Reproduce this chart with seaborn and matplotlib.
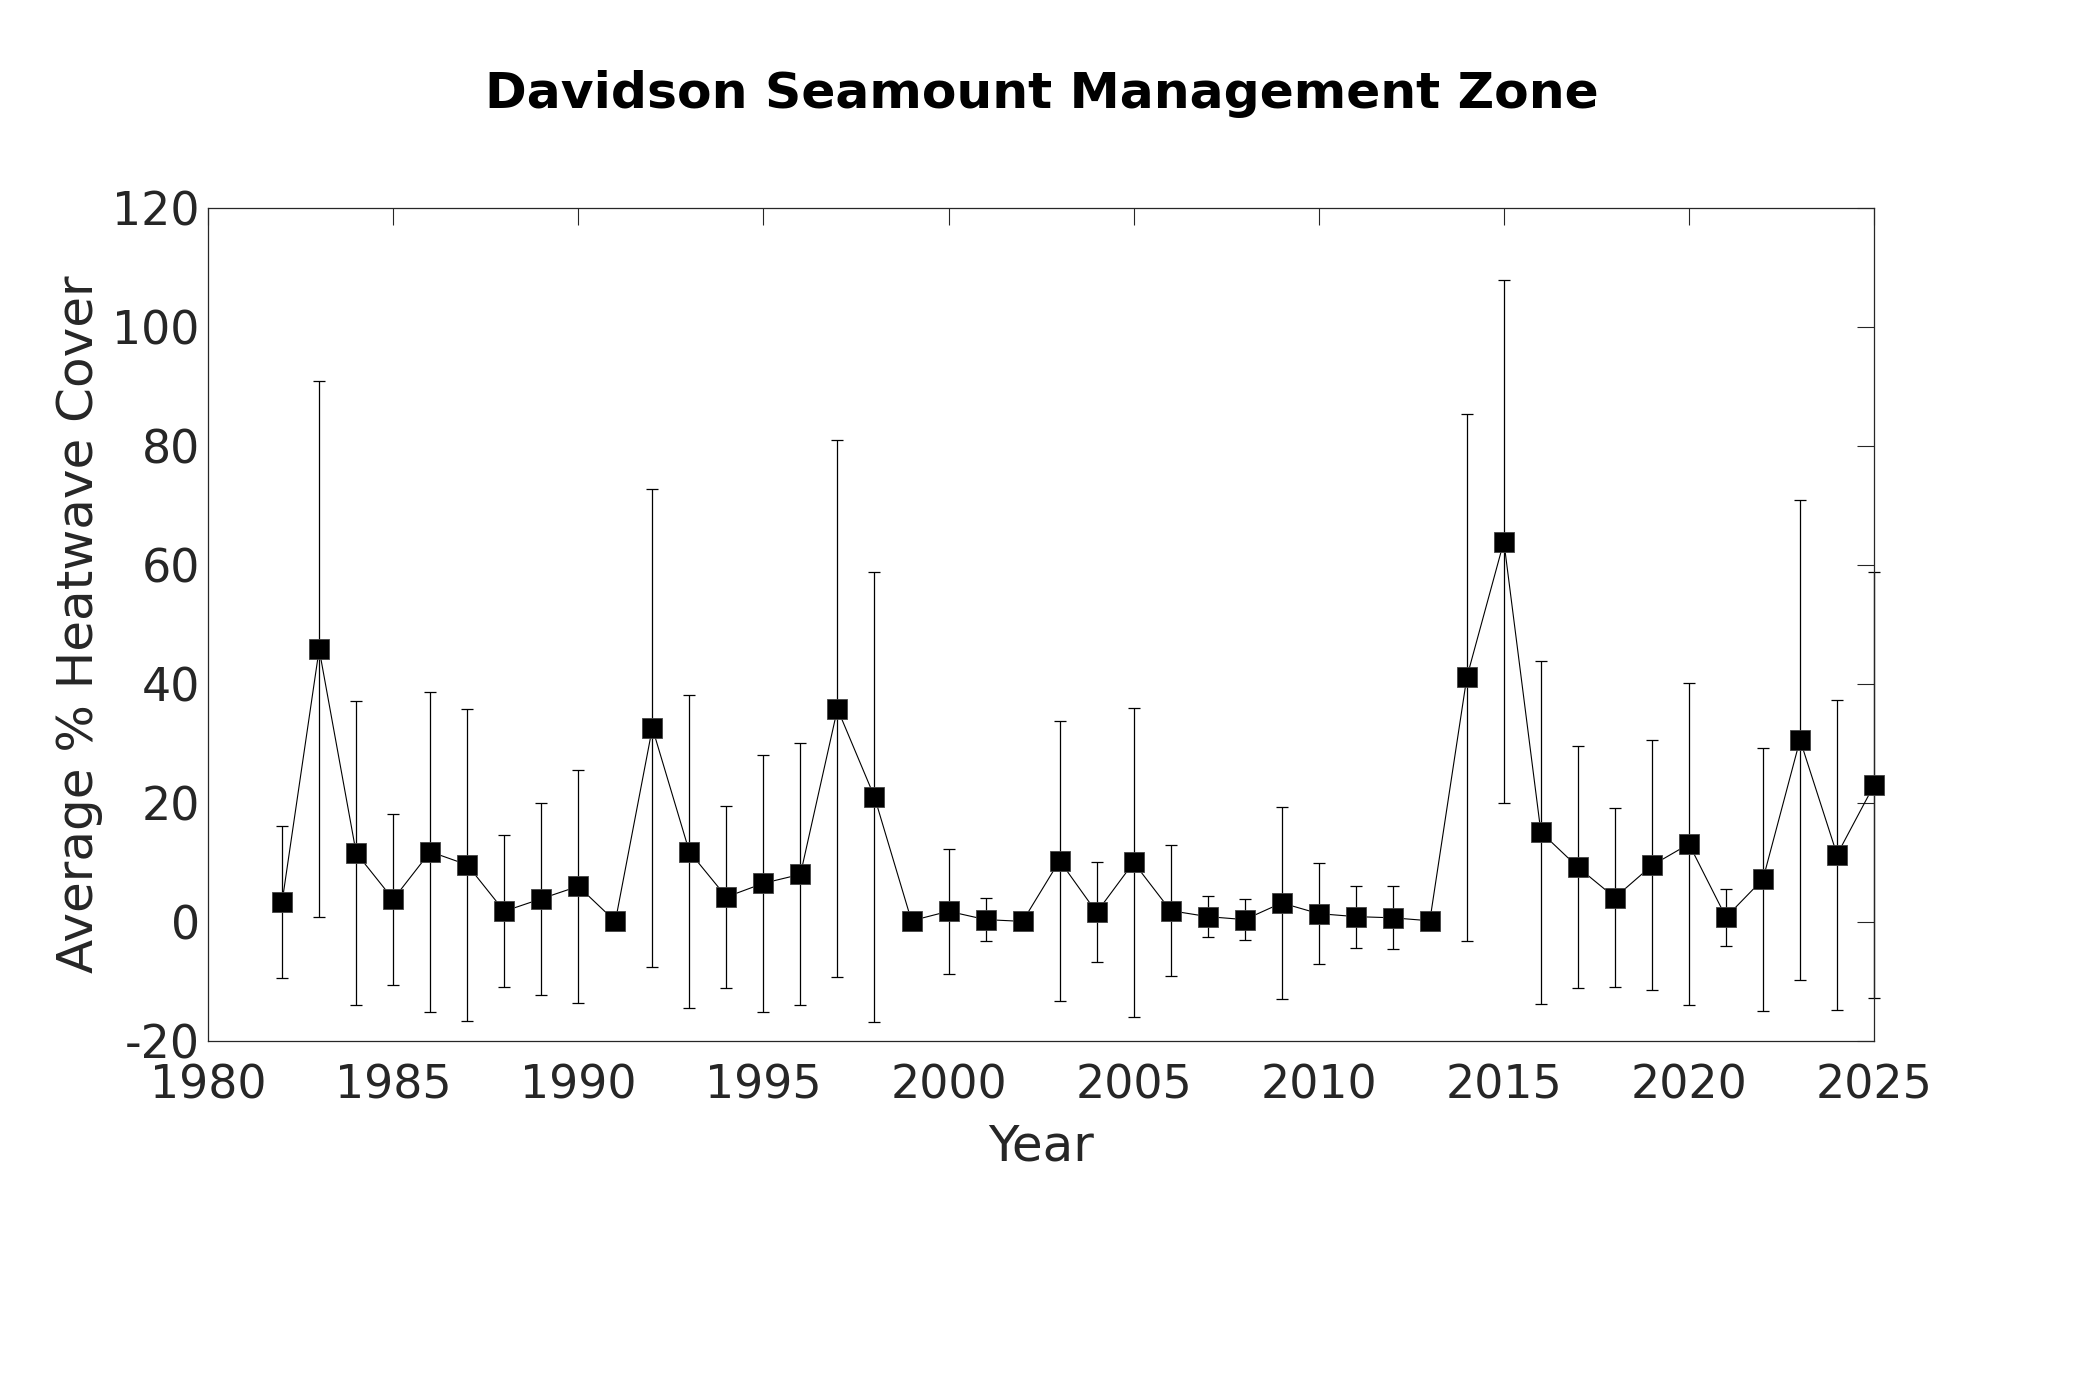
import numpy as np
import pandas as pd
import seaborn as sns
import matplotlib
matplotlib.use("Agg")
import matplotlib.pyplot as plt

# Data (mean and +/- std)
years = list(range(1982, 2026))
mean_cover = [3.4, 45.8, 11.6, 3.8, 11.8, 9.6, 1.8, 3.9, 6.0, 0.1,
              32.6, 11.8, 4.2, 6.5, 8.0, 35.8, 21.0, 0.2, 1.8, 0.4,
              0.1, 10.3, 1.6, 10.0, 1.9, 0.9, 0.4, 3.2, 1.4, 0.9,
              0.7, 0.2, 41.1, 63.9, 15.1, 9.2, 4.1, 9.5, 13.1, 0.8,
              7.2, 30.6, 11.3, 23.0]
std_cover = [12.8, 45.0, 25.5, 14.4, 26.9, 26.2, 12.8, 16.1, 19.6, 0.0,
             40.1, 26.3, 15.3, 21.6, 22.0, 45.1, 37.8, 0.0, 10.5, 3.6,
             0.0, 23.5, 8.4, 26.0, 11.0, 3.5, 3.5, 16.1, 8.5, 5.2,
             5.3, 0.0, 44.3, 43.9, 28.8, 20.3, 15.1, 21.0, 27.0, 4.8,
             22.1, 40.3, 26.0, 35.8]

df = pd.DataFrame({"Year": years, "Cover": mean_cover, "Std": std_cover})

sns.set_theme(style="white")
plt.rcParams['font.family'] = ['DejaVu Sans']
plt.rcParams['axes.unicode_minus'] = False
text_col = '#262626'

fig = plt.figure(figsize=(20.83, 13.89), dpi=100)
ax = fig.add_axes([0.0999, 0.2505, 0.7998, 0.6001])

# error bars
ax.errorbar(df["Year"], df["Cover"], yerr=df["Std"], fmt='none',
            ecolor='black', elinewidth=0.9, capsize=4.3, capthick=0.9,
            clip_on=False, zorder=2)

# connecting line with square markers
sns.lineplot(data=df, x="Year", y="Cover", ax=ax, color='black',
             linewidth=0.8, marker='s', markersize=15,
             markerfacecolor='black', markeredgecolor='#444444',
             markeredgewidth=0.6, clip_on=False, zorder=3)

ax.set_xlim(1980, 2025)
ax.set_ylim(-20, 120)
ax.set_xticks(np.arange(1980, 2026, 5))
ax.set_yticks(np.arange(-20, 121, 20))

ax.tick_params(axis='both', which='both', direction='in', length=12,
               width=0.8, top=True, right=True, labelsize=33,
               colors=text_col, pad=6)
ax.tick_params(axis='x', pad=16)
for s in ax.spines.values():
    s.set_color(text_col)
    s.set_linewidth(0.9)

ax.set_xlabel("Year", fontsize=36, color=text_col, labelpad=10)
ax.set_ylabel("Average % Heatwave Cover", fontsize=36, color=text_col,
              labelpad=7)
fig.suptitle("Davidson Seamount Management Zone", fontsize=36.3,
             fontweight='bold', color='black', x=0.5, y=0.932, va='center')

fig.savefig("out.png", dpi=100, facecolor='white')
